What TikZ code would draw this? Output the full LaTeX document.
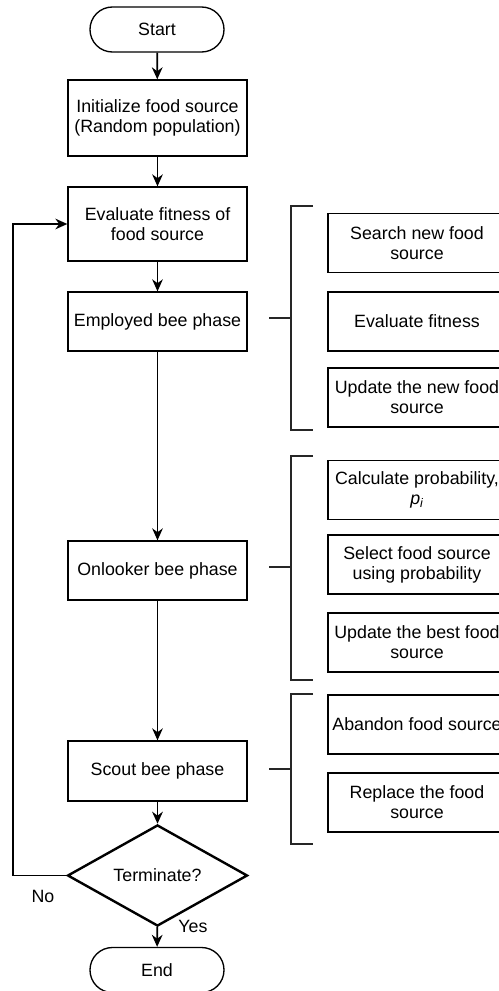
\documentclass[tikz,border=0pt]{standalone}
\usepackage{fontspec}
\setmainfont{Liberation Sans}
\usetikzlibrary{shapes.geometric, arrows.meta}

\begin{document}
\begin{tikzpicture}[x=0.75pt, y=-0.75pt, font=\fontsize{13.35}{15}\selectfont,
  flow/.style = {draw, line width=1.3pt, -{Stealth[length=9pt, width=8pt]}},
  bracket/.style = {draw, line width=0.8pt, black!85}]
\useasboundingbox (0,0) rectangle (499,991);
\clip (0,0) rectangle (499,991);
\begin{scope}[every node/.style = {draw, line width=1pt, align=center, inner sep=0pt, minimum width=100.5pt, minimum height=33.75pt, rounded corners=16.8pt}]
\node (Start) at (157, 29.5) {Start};
\node (End) at (157, 970) {End};
\end{scope}
\begin{scope}[every node/.style = {rectangle, draw, line width=1pt, align=center, inner sep=0pt, minimum width=134.25pt, minimum height=44.25pt}]
\node[minimum height=57pt] (Init) at (157.5, 118) {Initialize food source\\(Random population)};
\node[minimum height=55.5pt] (Eval) at (157.5, 224) {Evaluate fitness of\\food source};
\node (Emp) at (157.5, 321.5) {Employed bee phase};
\node (Onl) at (157.5, 570.5) {Onlooker bee phase};
\node[minimum height=45pt] (Scout) at (157.5, 771) {Scout bee phase};
\end{scope}
\node[diamond, draw, line width=1.8pt, inner sep=0pt, minimum width=135pt, minimum height=63.75pt] (Term) at (157.5, 875.5) {Terminate?};
\node (No) at (43, 896) {No};
\node (Yes) at (193, 926) {Yes};
\begin{scope}[every node/.style = {rectangle, draw, line width=1pt, align=center, inner sep=0pt, minimum width=133.5pt, minimum height=44.25pt}]
\node (Search) at (417, 243) {Search new food\\source};
\node (EvFit) at (417, 321.5) {Evaluate fitness};
\node (UpNew) at (417, 397.5) {Update the new food\\source};
\node (Prob) at (417, 490) {Calculate probability,\\{\itshape p\textsubscript{i}}};
\node (Select) at (417, 564.5) {Select food source\\using probability};
\node (UpBest) at (417, 642.5) {Update the best food\\source};
\node (Abandon) at (417, 724.5) {Abandon food source};
\node (Replace) at (417, 802.5) {Replace the food\\source};
\end{scope}
\begin{scope}[every edge/.style = {flow}]
\path (Start) edge (Init);
\path (Init) edge (Eval);
\path (Eval) edge (Emp);
\path (Emp) edge (Onl);
\path (Onl) edge (Scout);
\path (Scout) edge (Term);
\path (Term) edge (End);
\draw[flow] (Term.west) -- ++(-53,0) |- (Eval.west);
\end{scope}
% brackets
\draw[bracket] (313,206) -- (291,206) -- (291,430) -- (313,430);
\draw[bracket] (269,318) -- (291,318);
\draw[bracket] (313,456) -- (291,456) -- (291,680) -- (313,680);
\draw[bracket] (269,567) -- (291,567);
\draw[bracket] (313,694) -- (291,694) -- (291,844) -- (313,844);
\draw[bracket] (269,769) -- (291,769);
\end{tikzpicture}
\end{document}
